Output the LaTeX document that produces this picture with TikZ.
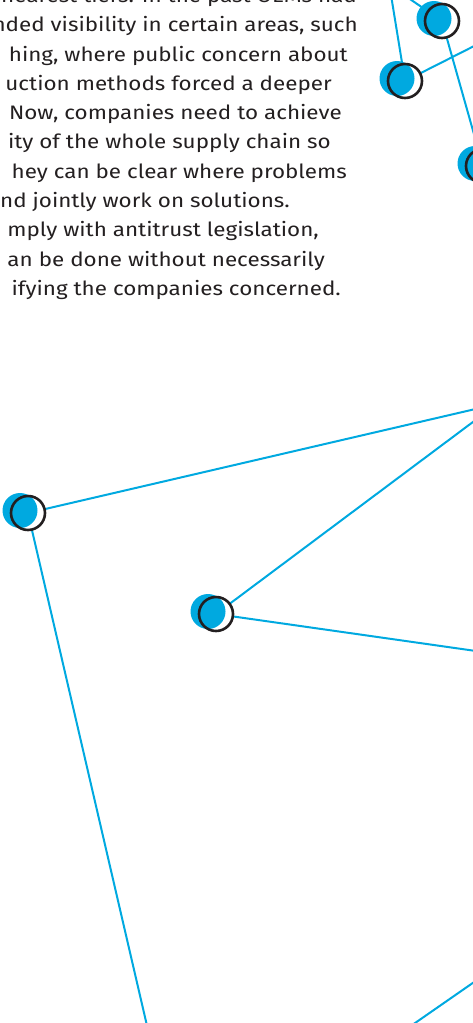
\documentclass[tikz,border=0pt]{standalone}
\usepackage{fontspec}
\setmainfont{Fira Sans}[FakeStretch=1.15]
\definecolor{netblue}{HTML}{00A9E0}
\definecolor{ink}{HTML}{231F20}
\tikzset{
  link/.style={draw=netblue, line width=2pt},
  blob/.style={circle, fill=netblue, minimum size=35pt, inner sep=0pt},
  hole/.style={circle, fill=white, minimum size=34pt, inner sep=0pt},
  ring/.style={circle, draw=ink, line width=2.6pt, minimum size=34pt, inner sep=0pt},
  txt/.style={anchor=base east, inner sep=0pt, text=ink, font=\fontsize{19.5}{23}\selectfont}
}
\begin{document}
\begin{tikzpicture}[x=1pt,y=-1pt]
\useasboundingbox (0,0) rectangle (473,1023);
\clip (0,0) rectangle (473,1023);
% text block, cut at the left edge
\node[txt] (l0) at (357,2.4) {nearest tiers. In the past OEMs had};
\node[txt] (l1) at (358,31.7) {nded visibility in certain areas, such};
\node[txt] (l2) at (348,61) {hing, where public concern about};
\node[txt] (l3) at (332,90.3) {uction methods forced a deeper};
\node[txt] (l4) at (342,119.6) {Now, companies need to achieve};
\node[txt] (l5) at (331,148.9) {ity of the whole supply chain so};
\node[txt] (l6) at (347,178.2) {hey can be clear where problems};
\node[txt] (l7) at (290,207.5) {nd jointly work on solutions.};
\node[txt] (l8) at (319,236.8) {mply with antitrust legislation,};
\node[txt] (l9) at (325,266.1) {an be done without necessarily};
\node[txt] (l10) at (341,295.4) {ifying the companies concerned.};
% network
\coordinate (na) at (442,21);
\coordinate (nb) at (405,81);
\coordinate (nc) at (483,166);
\coordinate (nd) at (28,513);
\coordinate (ne) at (216,614);
\coordinate (nh) at (497,404);
\coordinate (top1) at (404,-5);
\coordinate (top2) at (391,-5);
\coordinate (out1) at (490,38);
\coordinate (out2) at (490,653);
\coordinate (bot1) at (148,1030);
\coordinate (bot2) at (405,1030);
\coordinate (out3) at (490,971);
\draw[link] (top1) -- (na);
\draw[link] (top2) -- (nb);
\draw[link] (nb) -- (out1);
\draw[link] (na) -- (nc);
\draw[link] (nd) -- (nh);
\draw[link] (ne) -- (nh);
\draw[link] (ne) -- (out2);
\draw[link] (nd) -- (bot1);
\draw[link] (bot2) -- (out3);
\foreach \n in {na,nb,nc,nd,ne}{
  \node[hole] (\n-h) at (\n) {};
  \node[blob] (\n-b) at ([shift={(-8,-2.5)}]\n) {};
  \node[ring] (\n-r) at (\n) {};
}
\end{tikzpicture}
\end{document}
